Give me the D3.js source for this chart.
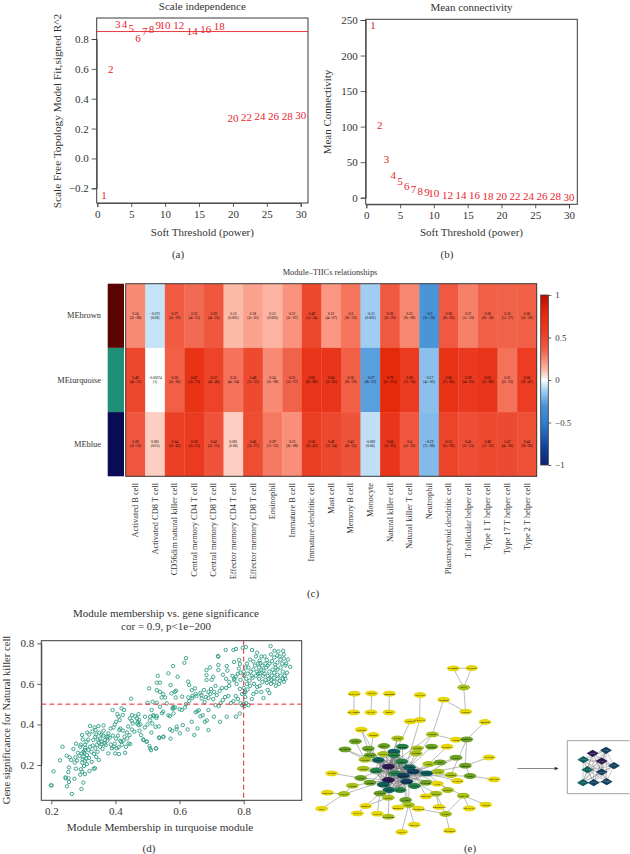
<!DOCTYPE html>
<html><head><meta charset="utf-8">
<script src="https://cdnjs.cloudflare.com/ajax/libs/d3/7.8.5/d3.min.js"></script>
<style>
html,body{margin:0;padding:0;background:#fff}
svg{display:block}
text{font-family:"Liberation Serif",serif;fill:#333}
</style></head><body><div id="c"></div>
<script>
// ---- (a)/(b) soft threshold
const powers=[1,2,3,4,5,6,7,8,9,10,12,14,16,18,20,22,24,26,28,30];
const scaleFit=[-0.25,0.594,0.898,0.9,0.874,0.807,0.854,0.867,0.892,0.892,0.892,0.85,0.865,0.883,0.271,0.275,0.284,0.284,0.284,0.289];
const meanK=[242,102,54,32,22.5,15.5,11,8.5,7.5,5.7,3.4,2.9,2.9,1.9,1.9,1.9,1.9,1.5,1.9,1];
const xTicksPower=[0,5,10,15,20,25,30];
const yTicksFit=[-0.2,0,0.2,0.4,0.6,0.8];
const yTicksK=[0,50,100,150,200,250];
// ---- (c) heatmap
const traits=["Activated B cell","Activated CD8 T cell","CD56dim natural killer cell","Central memory CD4 T cell","Central memory CD8 T cell","Effector memory CD4 T cell","Effector memory CD8 T cell","Eosinophil","Immature B cell","Immature dendritic cell","Mast cell","Memory B cell","Monocyte","Natural killer cell","Natural killer T cell","Neutrophil","Plasmacytoid dendritic cell","T follicular helper cell","Type 1 T helper cell","Type 17 T helper cell","Type 2 T helper cell"];
const modules=["MEbrown","MEturquoise","MEblue"];
const moduleColors=["#5a0404","#1f8f78","#0a0a55"];
const corBrown=[0.24,-0.075,0.37,0.33,0.39,0.12,0.18,0.13,0.22,0.49,0.21,0.3,-0.13,0.38,0.25,-0.3,0.38,0.27,0.36,0.35,0.36];
const pBrown=["2e−08","0.08","3e−19","4e−15","4e−21","0.005","2e−05","0.003","2e−07","1e−34","4e−07","9e−13","0.002","2e−20","9e−09","1e−12","9e−20","1e−10","9e−18","1e−17","2e−18"];
const corTurq=[0.49,-0.00074,0.36,0.67,0.52,0.31,0.48,0.24,0.35,0.65,0.64,0.36,-0.27,0.79,0.58,-0.17,0.66,0.59,0.65,0.31,0.56];
const pTurq=["4e−35","1","3e−16","3e−75","4e−40","4e−14","1e−33","3e−08","3e−17","9e−66","3e−65","9e−19","8e−11","1e−115","7e−50","4e−05","7e−66","4e−50","3e−66","2e−13","9e−47"];
const corBlue=[0.39,0.081,0.54,0.58,0.42,0.081,0.46,0.29,0.23,0.56,0.49,0.42,-0.082,0.64,0.4,-0.19,0.52,0.45,0.48,0.47,0.44];
const pBlue=["2e−21","0.05","3e−43","5e−51","2e−25","0.06","3e−27","7e−12","8e−08","9e−47","7e−34","6e−25","0.06","1e−65","2e−22","7e−06","1e−39","1e−33","7e−33","4e−30","9e−28"];
const legendTicks=[1,0.5,0,-0.5,-1];
const corStops=[-1,-0.8,-0.5,-0.3,-0.13,-0.05,0,0.05,0.13,0.24,0.37,0.58,0.8,1];
const corColors=["#0a2272","#123f9c","#2f7fd0","#4a94d8","#a0cef2","#d6ebf9","#ffffff","#fde0d6","#fcb5a2","#f98b75","#f05b42","#ea3a1f","#e5280a","#b80f00"];
// ---- (d) scatter: module membership, gene significance
const membership=[
[.199,.100],[.201,.099],[.207,.169],[.264,.057],[.235,.290],[.227,.223],[.248,.246],[.257,.238],[.262,.225],[.275,.238],[.273,.212],[.255,.188],[.253,.165],[.245,.134],[.244,.139],[.254,.134],[.255,.116],[.249,.095],[.272,.132],[.294,.082],[.300,.113],[.290,.152],[.305,.155],[.319,.170],[.336,.184],[.332,.182],[.277,.182],[.292,.179],[.296,.167],[.269,.279],[.277,.305],[.290,.290],[.298,.326],[.296,.348],[.305,.274],[.303,.258],[.300,.241],[.298,.228],[.296,.212],[.305,.221],[.311,.204],[.302,.195],[.295,.257],[.311,.249],[.309,.231],[.316,.274],[.321,.290],[.329,.296],[.337,.282],[.344,.265],[.352,.290],[.357,.303],[.331,.323],[.337,.339],[.321,.392],[.335,.385],[.350,.359],[.347,.392],[.363,.395],[.363,.369],[.378,.356],[.376,.339],[.385,.380],[.394,.385],[.368,.323],[.357,.315],[.370,.298],[.389,.282],[.394,.290],[.378,.257],[.399,.257],[.411,.254],[.404,.282],[.410,.287],[.415,.320],[.418,.315],[.423,.369],[.415,.380],[.402,.413],[.413,.421],[.406,.451],[.410,.438],[.419,.479],[.427,.471],[.423,.446],[.391,.471],[.449,.527],[.452,.446],[.451,.418],[.454,.405],[.467,.430],[.472,.451],[.470,.413],[.472,.397],[.459,.364],[.451,.375],[.475,.369],[.480,.347],[.487,.326],[.444,.347],[.437,.331],[.441,.306],[.433,.290],[.430,.260],[.446,.303],[.498,.315],[.506,.293],[.511,.273],[.527,.282],[.537,.333],[.550,.339],
[.305,.300],[.310,.315],[.315,.325],[.318,.350],[.312,.360],[.325,.265],[.333,.255],[.340,.240],[.348,.225],[.300,.265],[.306,.285],[.292,.300],[.283,.260],[.280,.222],[.288,.245],[.318,.235],[.326,.215],[.342,.300],[.348,.310],[.345,.325],[.352,.330],[.340,.350],[.328,.365],[.338,.372],[.356,.350],[.362,.345],[.372,.340],[.366,.305],[.360,.280],[.375,.320],[.382,.335],[.386,.300],[.398,.305],[.402,.330],[.408,.345],[.412,.372],[.398,.400],[.392,.345],[.425,.320],[.420,.300],[.428,.340],[.436,.360],[.440,.390],[.445,.430],[.462,.440],[.468,.405],[.478,.400],[.492,.385],[.500,.400],[.508,.420],[.515,.405],[.520,.440],[.528,.432],
[.505,.578],[.532,.640],[.565,.652],[.580,.688],[.620,.727],[.615,.704],[.594,.635],[.539,.606],[.529,.606],[.572,.594],[.589,.566],[.585,.561],[.575,.553],[.539,.561],[.549,.550],[.529,.569],[.555,.533],[.544,.533],[.560,.504],[.608,.537],[.588,.533],[.500,.507],[.516,.512],[.529,.507],[.539,.487],[.549,.463],[.513,.471],[.518,.446],[.529,.441],[.508,.438],[.492,.438],[.474,.422],[.570,.441],[.581,.454],[.581,.479],[.586,.484],[.607,.471],[.617,.484],[.627,.533],[.627,.611],[.630,.594],[.638,.569],[.648,.578],[.653,.540],[.669,.528],[.684,.668],[.695,.681],[.721,.734],[.721,.693],[.721,.668],[.705,.635],[.684,.643],[.684,.619],[.700,.620],[.712,.590],[.638,.413],[.625,.375],[.646,.348],[.656,.380],[.690,.372],[.679,.413],[.690,.471],[.726,.413],[.707,.438],[.747,.438],[.776,.438],[.788,.454],[.570,.376],[.577,.369],[.572,.330],[.549,.339],[.536,.336],[.526,.282],[.508,.282],[.497,.315],[.487,.323],[.601,.356],[.591,.376],[.610,.397],[.591,.389],[.525,.388],[.535,.390],[.512,.360],[.565,.445],[.545,.455],[.580,.485],[.578,.478],[.600,.475],[.620,.500],[.630,.515],[.640,.530],[.655,.465],[.650,.460],[.660,.470],[.668,.545],[.678,.510],[.682,.535],[.690,.530],[.696,.550],[.705,.525],[.712,.495],[.722,.490],[.728,.505],[.735,.520],[.742,.535],[.752,.540],[.760,.505],[.768,.515],[.775,.540],[.782,.525],[.790,.505],[.698,.575],[.708,.560],[.716,.545],[.725,.565],[.732,.580],[.745,.580],[.755,.590],[.690,.560],[.676,.570],[.665,.555],[.650,.550],[.640,.540],[.685,.420],[.672,.445],[.665,.440],[.735,.645],[.745,.625],[.755,.610],[.765,.640],[.770,.625],[.778,.600],[.788,.575],[.795,.550],[.805,.560],[.800,.580],[.790,.620],[.782,.650],[.744,.767],[.768,.767],[.776,.772],[.797,.778],[.807,.781],[.826,.767],[.884,.786],[.923,.763],[.896,.763],[.842,.754],[.720,.737],[.747,.688],[.749,.665],[.770,.708],[.786,.718],[.788,.698],[.785,.676],[.790,.655],[.775,.635],[.771,.618],
[.800,.500],[.802,.490],[.808,.505],[.815,.495],[.795,.495],[.825,.525],[.830,.550],[.840,.560],[.855,.560],[.862,.530],[.875,.570],[.880,.555],[.900,.590],[.910,.600],[.925,.610],[.930,.625],[.935,.655],[.945,.684],[.930,.690],[.920,.700],[.912,.735],[.925,.745],[.905,.740],[.895,.730],[.885,.745],[.875,.690],[.865,.735],[.855,.735],[.850,.715],[.845,.700],[.838,.735],[.830,.710],[.820,.720],[.810,.700],[.805,.680],[.800,.660],[.812,.650],[.822,.660],[.830,.670],[.842,.660],[.850,.650],[.860,.640],[.868,.620],[.878,.625],[.888,.640],[.895,.655],[.905,.670],[.915,.680],[.922,.660],[.928,.640],[.915,.640],[.905,.625],[.895,.610],[.885,.600],[.872,.605],[.858,.610],[.848,.625],[.838,.640],[.828,.630],[.818,.615],[.810,.600],[.820,.590],[.832,.600],[.842,.585],[.850,.590],[.862,.665],[.870,.680],[.880,.700],[.888,.712],[.898,.695],[.905,.705],[.915,.720],[.925,.725],[.900,.680],[.890,.670],[.880,.660],[.868,.700],[.858,.690],[.848,.680],[.855,.668],[.865,.650],[.875,.640],[.885,.620],[.895,.630],[.905,.645],[.912,.615],[.922,.625],[.932,.700],[.938,.720],[.908,.760],[.872,.718],[.852,.702],[.812,.572],[.805,.535],[.802,.555],[.808,.625],[.800,.640],[.815,.680],[.825,.640],[.835,.690],[.845,.650]];
const refX=0.8, refY=0.5;
const xTicksMM=[0.2,0.4,0.6,0.8], yTicksGS=[0.2,0.4,0.6,0.8];
// ---- (e) network: layout position, degree tier
const geneNames=["SAMD3","PLEK2","KLF","CD101","PTGS2","RASAL3","SLAMF6","IFI35","OAS3","TRIM22","IRF7","CCL19","CXCL13","CD79A","GPR18","CD160","TIGIT","CD96","CD69","SH2D1A","CCR5","CST7","KLRD1","PRF1","GNLY","GZMB","NKG7","CD247","KLRK1","IL2RB","GZMA","CTSW","CCL5","CD3E","CD3D","LCK","ZAP70","CD2","CD5","TBX21","CD8A","CD3G","ITK","CD48","CD52","CD27","PTPRC","LAT","EOMES","CD6","TRAT1","CCR2","IL7R","CD53","SKAP1","PRKCQ","CD28","GZMK","CD8B","CXCR3","LY9","FASLG","CD84","SLA2","LCP2","TNFSF8","CCL4","CD7","STAT4","CXCR6","ICOS","IKZF1","IKZF3","PDCD1","CTLA4","LAG3","SIT1","P2RY8","GPR171","CD40LG","TNFRSF9","KCNA3","CD38","XCL1","XCL2","IL12RB2","CCR4","SPN","TRAF1","CCL3","PYHIN1"];
const nodeX=[400,455,431,437,371,103,101,155,153,208,207,300,299,271,495,124,160,337,408,440,233,106,75,145,192,247,292,335,381,288,150,135,190,222,222,408,507,326,360,436,245,175,205,268,130,168,320,355,393,450,522,35,122,225,250,280,205,260,150,318,352,412,97,190,283,22,72,207,240,180,205,348,383,318,430,257,266,137,234,295,357,448,497,112,172,205,377,5,283,245,389];
const nodeY=[145,144,202,275,239,221,277,220,277,221,277,225,300,304,306,329,345,343,359,358,355,364,388,386,378,380,385,380,380,400,406,419,402,395,405,413,412,432,427,437,425,420,440,442,446,452,460,455,465,468,478,460,474,460,467,455,480,485,488,488,491,483,497,494,498,518,522,510,510,520,533,521,510,529,527,540,555,558,563,566,561,565,554,580,581,590,582,566,614,636,632];
const nodeTier=[0,0,1,0,0,0,0,0,0,0,0,0,0,0,0,0,0,1,0,2,1,2,2,2,2,3,1,2,0,1,2,1,1,4,3,2,0,1,2,2,3,4,6,4,1,3,4,1,1,2,0,0,2,3,5,5,6,5,2,2,0,0,1,4,3,0,1,4,3,2,1,1,1,0,1,2,1,0,0,0,0,0,0,0,0,1,1,0,0,0,0];
const tierColors=["#e6d60c","#a8bf1a","#6a9f24","#257f48","#0f5f5c","#123f5c","#2c1a55"];
const coreNodes=[33,34,40,41,42,43,45,53,54,55,56,57,63,67,68,46];
const extraEdges=[[0,1],[0,2],[1,2],[2,3],[3,4],[5,6],[7,8],[9,10],[11,12],[4,17],[14,19],[17,18],[18,19],[19,39],[13,42],[12,54],[17,54],[17,42],[19,48],[35,46],[35,54],[36,39],[39,49],[39,46],[49,50],[49,54],[48,55],[47,55],[38,55],[37,55],[27,43],[28,37],[26,43],[29,40],[25,42],[25,54],[24,42],[20,33],[20,42],[15,30],[15,41],[16,30],[21,31],[22,31],[22,42],[23,42],[23,31],[30,42],[32,54],[31,42],[44,42],[44,56],[51,52],[52,42],[52,56],[58,56],[58,42],[62,56],[65,66],[66,62],[66,56],[87,66],[69,56],[70,42],[70,54],[85,67],[84,69],[83,69],[77,70],[75,54],[76,54],[76,43],[78,75],[79,76],[79,86],[88,76],[89,76],[80,71],[86,71],[86,74],[90,86],[81,74],[82,74],[74,55],[72,46],[73,55],[71,54],[59,54],[60,54],[61,46],[64,42],[64,54]];
const insetX=[818,858,790,845,882,802,845,789,821,860];
const insetY=[400,391,419,423,437,449,456,488,488,485];
const insetTier=[6,5,4,6,5,4,5,4,5,5];
const insetNames=["CD3E","CD2","GZMA","LCK","CD8A","ZAP70","CD3D","ITK","CD3G","CD247"];

const W=630,H=854;
const svg=d3.select("#c").append("svg").attr("width",W).attr("height",H).attr("viewBox",[0,0,W,H]);
const INK="#3a3a3a", RED="#e8242e", TEAL="#2f9c84";
function txt(x,y,s,size,anchor,rot,fill){
  const t=svg.append("text").attr("x",x).attr("y",y).attr("font-size",size).attr("text-anchor",anchor||"middle").text(s);
  if(rot) t.attr("transform",`rotate(${rot},${x},${y})`);
  if(fill) t.style("fill",fill);
  return t;
}
function styleAxis(g,fs){
  g.selectAll(".domain").attr("stroke",INK).attr("stroke-width",.8);
  g.selectAll(".tick line").attr("stroke",INK).attr("stroke-width",.8);
  g.selectAll("text").attr("font-size",fs).style("font-family",'"Liberation Serif",serif').style("fill","#333");
}
const fmtMinus=f=>v=>f(v).replace("-","−");
function box(x0,y0,x1,y1,w){svg.append("rect").attr("x",x0).attr("y",y0).attr("width",x1-x0).attr("height",y1-y0).attr("fill","none").attr("stroke",INK).attr("stroke-width",w||1);}

function softPlot(cfg){
  const x=d3.scaleLinear().domain([0,30]).range(cfg.xr);
  const y=d3.scaleLinear().domain(cfg.yd).range(cfg.yr);
  const gx=svg.append("g").attr("transform",`translate(0,${cfg.b[3]})`).call(d3.axisBottom(x).tickValues(xTicksPower).tickSizeOuter(0).tickSize(4).tickPadding(3));
  styleAxis(gx,11);
  const gy=svg.append("g").attr("transform",`translate(${cfg.b[0]},0)`).call(d3.axisLeft(y).tickValues(cfg.yt).tickSizeOuter(0).tickSize(5).tickPadding(3).tickFormat(cfg.fmt));
  styleAxis(gy,11);
  box(...cfg.b);
  if(cfg.hline!=null) svg.append("line").attr("x1",cfg.b[0]).attr("x2",cfg.b[2]).attr("y1",y(cfg.hline)).attr("y2",y(cfg.hline)).attr("stroke",RED).attr("stroke-width",.9);
  svg.append("g").selectAll("text").data(powers).join("text").attr("x",d=>x(d)).attr("y",(d,i)=>y(cfg.vals[i])+3.6).attr("text-anchor","middle").attr("font-size",11).style("fill",RED).text(d=>d);
  txt((cfg.b[0]+cfg.b[2])/2,cfg.titleY,cfg.title,11);
  txt((cfg.b[0]+cfg.b[2])/2,236,"Soft Threshold (power)",11);
  txt(cfg.ylx,cfg.yly,cfg.ylab,cfg.ylfs,"middle",-90);
}
softPlot({xr:[97.3,300.7],yd:[-0.2,0.8],yr:[188.3,39],yt:yTicksFit,fmt:fmtMinus(d3.format(".1f")),b:[96.7,18,308,203],vals:scaleFit,hline:.85,title:"Scale independence",titleY:10,ylx:61,yly:111,ylfs:11.3,ylab:"Scale Free Topology Model Fit,signed R^2"});
softPlot({xr:[366.3,569],yd:[0,250],yr:[197.7,20],yt:yTicksK,fmt:d3.format("d"),b:[365.7,19.3,577.3,204.3],vals:meanK,title:"Mean connectivity",titleY:11,ylx:331,yly:112,ylfs:11,ylab:"Mean Connectivity"});
txt(178,258,"(a)",11);txt(447,258,"(b)",11);

// heatmap
const hx=d3.scaleBand().domain(traits).range([125.7,536.7]);
const hy=d3.scaleBand().domain(modules).range([283.7,476.3]);
const col=d3.scaleLinear().domain(corStops).range(corColors).clamp(true);
const rows=[[corBrown,pBrown],[corTurq,pTurq],[corBlue,pBlue]];
const fmtCor=v=>String(v).replace("-","−");
modules.forEach((m,ri)=>{
  svg.append("rect").attr("x",107.7).attr("width",16.3).attr("y",hy(m)).attr("height",hy.bandwidth()).attr("fill",moduleColors[ri]);
  txt(101,hy(m)+hy.bandwidth()/2+2.5,m,8.4,"end");
  const g=svg.append("g");
  g.selectAll("rect").data(traits).join("rect").attr("x",d=>hx(d)).attr("y",hy(m)).attr("width",hx.bandwidth()+.3).attr("height",hy.bandwidth()+.3).attr("fill",(d,i)=>col(rows[ri][0][i]));
  const mid=hy(m)+hy.bandwidth()/2;
  g.selectAll("text.a").data(traits).join("text").attr("class","a").attr("x",d=>hx(d)+hx.bandwidth()/2).attr("y",mid-1.2).attr("text-anchor","middle").attr("font-size",3.6).style("fill","#000").text((d,i)=>fmtCor(rows[ri][0][i]));
  g.selectAll("text.b").data(traits).join("text").attr("class","b").attr("x",d=>hx(d)+hx.bandwidth()/2).attr("y",mid+3.2).attr("text-anchor","middle").attr("font-size",3.6).style("fill","#000").text((d,i)=>"("+rows[ri][1][i]+")");
});
box(125.7,283.7,536.7,476.3,1);
txt(330,275,"Module–TIICs relationships",8.4);
traits.forEach(t=>{const cx=hx(t)+hx.bandwidth()/2+2.7;txt(cx,483,t,8.4,"end",-90);});
// colour bar
const ly=d3.scaleLinear().domain([1,-1]).range([295,465]);
const grad=svg.append("defs").append("linearGradient").attr("id","cb").attr("x1",0).attr("x2",0).attr("y1",1).attr("y2",0);
corStops.forEach((s,i)=>grad.append("stop").attr("offset",(s+1)/2).attr("stop-color",corColors[i]));
svg.append("rect").attr("x",540.7).attr("y",295).attr("width",7.6).attr("height",170).attr("fill","url(#cb)").attr("stroke",INK).attr("stroke-width",.8);
const gl=svg.append("g").attr("transform","translate(548.3,0)").call(d3.axisRight(ly).tickValues(legendTicks).tickSize(3).tickSizeOuter(0).tickPadding(4).tickFormat(v=>String(v).replace("-","−")));
styleAxis(gl,8.8);gl.select(".domain").remove();
txt(313,597,"(c)",11);

// scatter
const sx=d3.scaleLinear().domain([0.2,0.8]).range([51.3,243.7]);
const sy=d3.scaleLinear().domain([0.2,0.8]).range([765,643.3]);
const gsx=svg.append("g").attr("transform","translate(0,800.3)").call(d3.axisBottom(sx).tickValues(xTicksMM).tickSize(4).tickSizeOuter(0).tickPadding(3).tickFormat(d3.format(".1f")));
styleAxis(gsx,11);
const gsy=svg.append("g").attr("transform","translate(41.3,0)").call(d3.axisLeft(sy).tickValues(yTicksGS).tickSize(4).tickSizeOuter(0).tickPadding(3).tickFormat(d3.format(".1f")));
styleAxis(gsy,11);
svg.append("g").selectAll("circle").data(membership).join("circle").attr("cx",d=>sx(d[0])).attr("cy",d=>sy(d[1])).attr("r",1.7).attr("fill","none").attr("stroke",TEAL).attr("stroke-width",.9);
box(41.3,640.7,301.7,800.3,1);
svg.append("line").attr("x1",41.3).attr("x2",301.7).attr("y1",sy(refY)).attr("y2",sy(refY)).attr("stroke",RED).attr("stroke-width",1).attr("stroke-dasharray","5,3");
svg.append("line").attr("x1",sx(refX)).attr("x2",sx(refX)).attr("y1",640.7).attr("y2",800.3).attr("stroke",RED).attr("stroke-width",1).attr("stroke-dasharray","5,3");
txt(166,617,"Module membership vs. gene significance",11);
txt(166,630,"cor = 0.9, p<1e−200",11);
txt(160,831,"Module Membership in turquoise module",11.2);
txt(10,720,"Gene significance for Natural killer cell",10.6,"middle",-90);
txt(149,852,"(d)",11);
txt(470,852,"(e)",11);

// network
const nx=d3.scaleLinear().domain([0,930]).range([320,630]);
const ny=d3.scaleLinear().domain([0,702]).range([620,854]);
const nodes=geneNames.map((g,i)=>({g,x:nodeX[i],y:nodeY[i],t:nodeTier[i]}));
const coreEdges=d3.cross(coreNodes,coreNodes).filter(p=>p[0]<p[1]);
const edgeG=svg.append("g");
edgeG.selectAll("line").data(coreEdges.concat(extraEdges)).join("line")
 .attr("x1",d=>nx(nodes[d[0]].x)).attr("y1",d=>ny(nodes[d[0]].y)).attr("x2",d=>nx(nodes[d[1]].x)).attr("y2",d=>ny(nodes[d[1]].y))
 .attr("stroke","#777").attr("stroke-width",.5);
const ng=svg.append("g");
ng.selectAll("ellipse").data(nodes).join("ellipse").attr("cx",d=>nx(d.x)).attr("cy",d=>ny(d.y)).attr("rx",6.4).attr("ry",2.9).attr("fill",d=>tierColors[d.t]);
ng.selectAll("text").data(nodes).join("text").attr("x",d=>nx(d.x)).attr("y",d=>ny(d.y)+1).attr("text-anchor","middle").attr("font-size",2.9).attr("font-weight","bold").style("fill","#111").text(d=>d.g);
// arrow
const ay=ny(445.5);
svg.append("line").attr("x1",nx(592)).attr("x2",nx(712)).attr("y1",ay).attr("y2",ay).attr("stroke","#555").attr("stroke-width",.7);
svg.append("path").attr("d",`M${nx(716)},${ay} l-4,-1.8 l0,3.6 z`).attr("fill","#333");
// inset
const insetNodes=insetNames.map((g,i)=>({g,x:insetX[i],y:insetY[i],t:insetTier[i]}));
const insetEdges=d3.cross(d3.range(10),d3.range(10)).filter(p=>p[0]<p[1]);
svg.append("path").attr("d",`M${nx(929)},${ny(362)} H${nx(742)} V${ny(521)} H${nx(929)}`).attr("fill","none").attr("stroke","#999").attr("stroke-width",.9);
svg.append("g").selectAll("line").data(insetEdges).join("line")
 .attr("x1",d=>nx(insetX[d[0]])).attr("y1",d=>ny(insetY[d[0]])).attr("x2",d=>nx(insetX[d[1]])).attr("y2",d=>ny(insetY[d[1]]))
 .attr("stroke","#777").attr("stroke-width",.4);
svg.append("g").selectAll("path").data(insetNodes).join("path").attr("d",d=>{const X=nx(d.x),Y=ny(d.y);return `M${X-6},${Y} L${X},${Y-3.6} L${X+6},${Y} L${X},${Y+3.6} Z`;}).attr("fill",d=>tierColors[d.t]);
svg.append("g").selectAll("text").data(insetNodes).join("text").attr("x",d=>nx(d.x)).attr("y",d=>ny(d.y)+.8).attr("text-anchor","middle").attr("font-size",2.4).style("fill","#bbb").text(d=>d.g);
</script></body></html>
